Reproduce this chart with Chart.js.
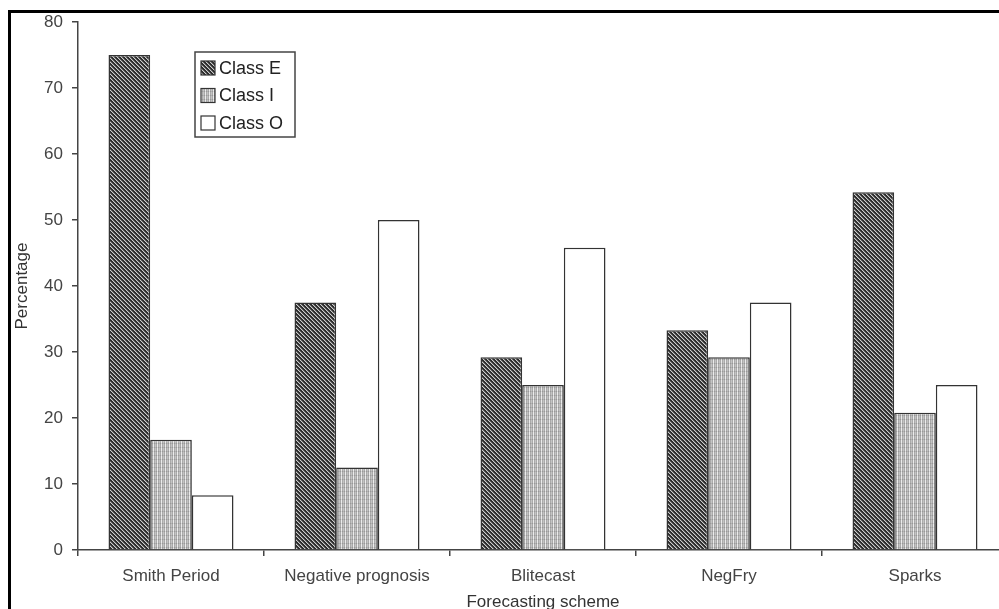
<!DOCTYPE html>
<html>
<head>
<meta charset="utf-8">
<script src="https://cdn.jsdelivr.net/npm/chart.js@4/dist/chart.umd.min.js"></script>
<style>
    body { margin: 0; background: #fff; overflow: hidden; }
    #frame {
        position: absolute; left: 8px; top: 10px; width: 1200px; height: 800px;
        border-left: 3px solid #000; border-top: 3px solid #000;
    }
    #wrap { position: absolute; left: 0; top: 0; width: 1020px; height: 620px; }
</style>
</head>
<body>
<div id="frame"></div>
<div id="wrap"><canvas id="classChart"></canvas></div>
<script>
const categories = ["Smith Period", "Negative prognosis", "Blitecast", "NegFry", "Sparks"];
const class_e = [75, 37.5, 29.2, 33.3, 54.2];
const class_i = [16.7, 12.5, 25, 29.2, 20.8];
const class_o = [8.3, 50, 45.8, 37.5, 25];
const series_names = ["Class E", "Class I", "Class O"];
const y_min = 0, y_max = 80, y_step = 10;

const font_family = "'Liberation Sans', Arial, Helvetica, sans-serif";
const canvas = document.getElementById("classChart");
const ctx = canvas.getContext("2d");

// small tiled bitmaps for the hatch fills
function make_pattern(size, shade) {
    const tile = document.createElement("canvas");
    tile.width = tile.height = size;
    const tctx = tile.getContext("2d");
    const img = tctx.createImageData(size, size);
    for (let y = 0; y < size; y++) {
        for (let x = 0; x < size; x++) {
            const v = shade(x, y);
            const i = (y * size + x) * 4;
            img.data[i] = img.data[i + 1] = img.data[i + 2] = v;
            img.data[i + 3] = 255;
        }
    }
    tctx.putImageData(img, 0, 0);
    return ctx.createPattern(tile, "repeat");
}

const hatch_dark = make_pattern(4, (x, y) => {
    const d = (x - y + 4) % 4;
    return d === 0 ? 205 : d === 1 ? 105 : 45;
});
const dots_light = make_pattern(4, (x, y) => {
    let v = x === 1 ? 236 : x === 3 ? 196 : 170;
    if (y === 3) v -= 18;
    return v;
});

// legend with a box, drawn inside the plot like the original
const boxLegend = {
    id: "boxLegend",
    afterDraw(chart) {
        const c = chart.ctx;
        const left = 195, top = 52, w = 100, h = 85;
        c.save();
        c.fillStyle = "#fff";
        c.fillRect(left, top, w, h);
        c.strokeStyle = "#444";
        c.lineWidth = 1.5;
        c.strokeRect(left, top, w, h);
        c.font = "18px " + font_family;
        c.textBaseline = "middle";
        chart.data.datasets.forEach((ds, i) => {
            const cy = top + 16 + i * 27.5;
            c.fillStyle = ds.backgroundColor;
            c.fillRect(left + 6, cy - 7, 14, 14);
            c.strokeStyle = "#333";
            c.lineWidth = 1.2;
            c.strokeRect(left + 6, cy - 7, 14, 14);
            c.fillStyle = "#222";
            c.fillText(ds.label, left + 24, cy + 1);
        });
        c.restore();
    }
};

new Chart(ctx, {
    type: "bar",
    data: {
        labels: categories,
        datasets: [
            { label: series_names[0], data: class_e, backgroundColor: hatch_dark },
            { label: series_names[1], data: class_i, backgroundColor: dots_light },
            { label: series_names[2], data: class_o, backgroundColor: "#ffffff" }
        ]
    },
    options: {
        responsive: true,
        maintainAspectRatio: false,
        animation: false,
        layout: { padding: { left: 0, top: 22, right: 12, bottom: 0 } },
        datasets: {
            bar: {
                borderColor: "#333",
                borderWidth: 1.5,
                barPercentage: 1.0,
                categoryPercentage: 0.672
            }
        },
        plugins: {
            legend: { display: false },
            tooltip: { enabled: false }
        },
        scales: {
            x: {
                afterFit: (scale) => { scale.height = 70; },
                grid: { offset: true, drawOnChartArea: false, drawTicks: true, tickLength: 6, color: "#444", lineWidth: 1.5 },
                border: { display: true, color: "#444", width: 1.5 },
                ticks: { color: "#444", padding: 10, font: { family: font_family, size: 17 } },
                title: {
                    display: true, text: "Forecasting scheme", color: "#333",
                    font: { family: font_family, size: 17 }, padding: { top: 0, bottom: 7 }
                }
            },
            y: {
                min: y_min,
                max: y_max,
                afterFit: (scale) => { scale.width = 78; },
                grid: { drawOnChartArea: false, drawTicks: true, tickLength: 6, color: "#444", lineWidth: 1.5 },
                border: { display: true, color: "#444", width: 1.5 },
                ticks: { stepSize: y_step, color: "#444", padding: 9, font: { family: font_family, size: 17 } },
                title: {
                    display: true, text: "Percentage", color: "#333",
                    font: { family: font_family, size: 17 }, padding: { top: 12, bottom: 0 }
                }
            }
        }
    },
    plugins: [boxLegend]
});
</script>
</body>
</html>
